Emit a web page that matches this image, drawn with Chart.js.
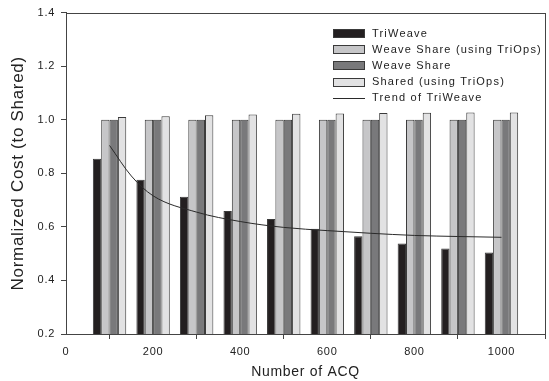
<!DOCTYPE html>
<html lang="en">
<head>
    <meta charset="UTF-8">
    <title>Normalized Cost</title>
    <style>
        html, body { margin: 0; padding: 0; background: #fff; }
        #wrap { width: 549px; height: 381px; }
    </style>
</head>
<body>
    <div id="wrap">
        <canvas id="myChart" width="549" height="381"></canvas>
    </div>

    <script src="https://cdn.jsdelivr.net/npm/chart.js"></script>

    <script>
        // data
        let acq = [100, 200, 300, 400, 500, 600, 700, 800, 900, 1000];
        let triWeave = [0.854, 0.776, 0.712, 0.659, 0.629, 0.593, 0.565, 0.538, 0.519, 0.504];
        let weaveShareTriOps = [1.0, 1.0, 1.0, 1.0, 1.0, 1.0, 1.0, 1.0, 1.0, 1.0];
        let weaveShare = [1.0, 1.0, 1.0, 1.0, 1.0, 1.0, 1.0, 1.0, 1.0, 1.0];
        let sharedTriOps = [1.01, 1.013, 1.017, 1.02, 1.022, 1.0235, 1.0255, 1.026, 1.027, 1.027];
        let trendX = [100, 150, 200, 300, 400, 500, 600, 700, 800, 900, 1000];
        let trendY = [0.904, 0.79, 0.716, 0.655, 0.62, 0.598, 0.586, 0.576, 0.568, 0.564, 0.561];
        let yTicks = [0.2, 0.4, 0.6, 0.8, 1.0, 1.2, 1.4];
        let xTicks = [0, 200, 400, 600, 800, 1000];

        const font = 'Liberation Sans, Arial, sans-serif';

        function pts(xs, ys) {
            return xs.map((x, i) => ({ x: x, y: ys[i] }));
        }

        function bar(label, values, color) {
            return {
                type: 'bar',
                label: label,
                data: pts(acq, values),
                backgroundColor: color,
                borderColor: '#3a3a3a',
                borderWidth: 1,
                borderSkipped: 'bottom',
                categoryPercentage: 0.767,
                barPercentage: 1.0,
                order: 1
            };
        }

        let datasets = [
            bar('TriWeave', triWeave, '#231f20'),
            bar('Weave Share (using TriOps)', weaveShareTriOps, '#c6c6c8'),
            bar('Weave Share', weaveShare, '#79797b'),
            bar('Shared (using TriOps)', sharedTriOps, '#e2e2e3'),
            {
                type: 'line',
                label: 'Trend of TriWeave',
                data: pts(trendX, trendY),
                borderColor: '#2a2a2a',
                borderWidth: 1,
                pointRadius: 0,
                cubicInterpolationMode: 'monotone',
                fill: false,
                order: 0
            }
        ];

        // wider letter spacing like the reference, frame round the plot, legend inside it
        const framePlugin = {
            id: 'frame',
            beforeDraw(chart) {
                chart.ctx.letterSpacing = '0.7px';
            },
            afterDatasetsDraw(chart) {
                const c = chart.ctx;
                const a = chart.chartArea;
                c.save();
                c.strokeStyle = '#444';
                c.lineWidth = 1;
                c.strokeRect(Math.round(a.left) + 0.5, Math.round(a.top) + 0.5,
                    Math.round(a.right - a.left), Math.round(a.bottom - a.top));

                c.font = '11px ' + font;
                c.letterSpacing = '1.2px';
                c.textBaseline = 'middle';
                let y0 = 33;
                chart.data.datasets.forEach((ds, i) => {
                    let y = y0 + i * 16.2;
                    if (ds.type === 'bar') {
                        c.fillStyle = ds.backgroundColor;
                        c.fillRect(333.5, Math.round(y - 4) + 0.5, 31, 8);
                        c.strokeStyle = '#3a3a3a';
                        c.strokeRect(333.5, Math.round(y - 4) + 0.5, 31, 8);
                    } else {
                        c.strokeStyle = ds.borderColor;
                        c.beginPath();
                        c.moveTo(333, Math.round(y) + 0.5);
                        c.lineTo(365, Math.round(y) + 0.5);
                        c.stroke();
                    }
                    c.fillStyle = '#222';
                    c.fillText(ds.label, 372, y + 0.5);
                });
                c.restore();
            }
        };

        const ctx = document.getElementById('myChart');

        let chart = new Chart(ctx, {
            data: { datasets: datasets },
            options: {
                responsive: false,
                animation: false,
                layout: { padding: { top: 11, right: 4, left: 0, bottom: 0 } },
                plugins: {
                    legend: { display: false },
                    tooltip: { enabled: false }
                },
                scales: {
                    x: {
                        type: 'linear',
                        min: 0,
                        max: 1100,
                        offset: false,
                        afterBuildTicks: s => { s.ticks = xTicks.map(v => ({ value: v })); },
                        afterFit: s => { s.height = 47; },
                        grid: { drawOnChartArea: false, drawTicks: true, tickLength: 5, color: '#444' },
                        border: { color: '#444' },
                        ticks: {
                            color: '#222',
                            font: { family: font, size: 11 },
                            padding: 6,
                            maxRotation: 0,
                            callback: v => String(v)
                        },
                        title: {
                            display: true,
                            text: 'Number of ACQ',
                            color: '#222',
                            font: { family: font, size: 14 },
                            padding: { top: 4, bottom: 0 }
                        }
                    },
                    y: {
                        min: 0.2,
                        max: 1.4,
                        afterBuildTicks: s => { s.ticks = yTicks.map(v => ({ value: v })); },
                        afterFit: s => { s.width = 66; },
                        grid: { drawOnChartArea: false, drawTicks: true, tickLength: 5, color: '#444' },
                        border: { color: '#444' },
                        ticks: {
                            color: '#222',
                            font: { family: font, size: 11 },
                            padding: 6,
                            callback: v => Number(v).toFixed(1)
                        },
                        title: {
                            display: true,
                            text: 'Normalized Cost (to Shared)',
                            color: '#222',
                            font: { family: font, size: 17 },
                            padding: { top: 8, bottom: 0 }
                        }
                    }
                }
            },
            plugins: [framePlugin]
        });
    </script>
</body>
</html>
